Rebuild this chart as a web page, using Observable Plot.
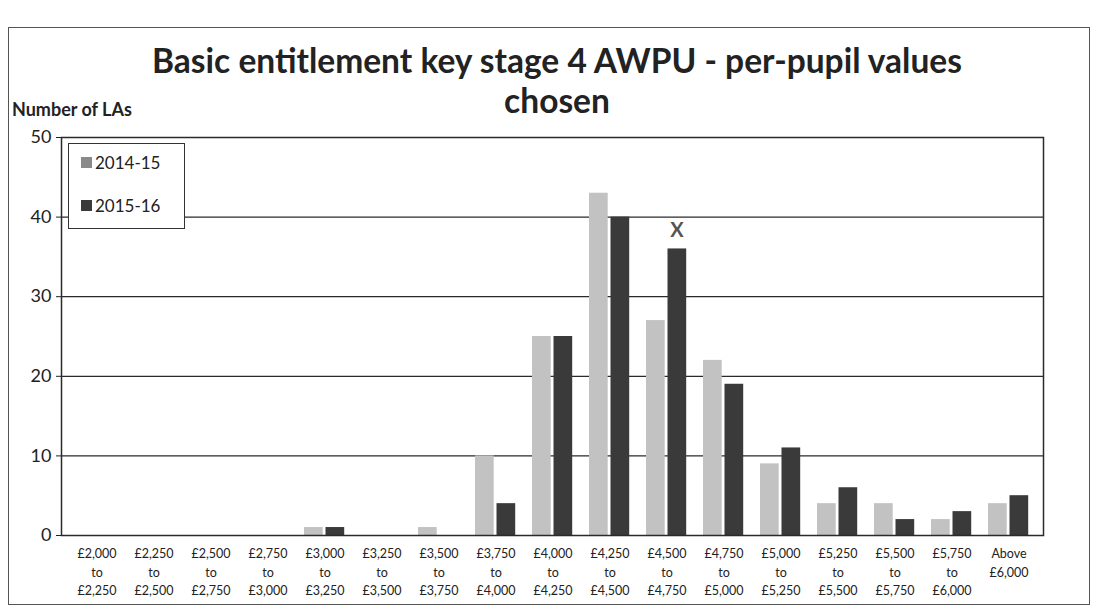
<!DOCTYPE html>
<html><head><meta charset="utf-8">
<script src="https://cdn.jsdelivr.net/npm/d3@7"></script>
<script src="https://cdn.jsdelivr.net/npm/@observablehq/plot@0.6"></script>
<style>
body{margin:0;background:#fff;font-family:Lato,"Open Sans",sans-serif;color:#222}
#wrap{position:relative;width:1100px;height:611px;overflow:hidden}
#border{position:absolute;left:8px;top:27px;width:1082px;height:578px;border:1.5px solid #555;box-sizing:border-box}
#title{position:absolute;left:0;width:1114px;top:40px;text-align:center;font-weight:700;font-size:33.5px;line-height:40px;color:#222}
#ylab{position:absolute;left:12px;top:98px;font-weight:700;font-size:18px;color:#222}
#chart{position:absolute;left:0;top:120px}
#legend{position:absolute;left:68px;top:143px;width:117px;height:86px;border:1.5px solid #333;background:#fff;box-sizing:border-box;font-size:17px}
.item{position:absolute;left:12px;display:flex;align-items:center}
.sw{width:11px;height:11px;margin-right:3px}
</style></head>
<body>
<div id="wrap">
<div id="border"></div>
<div id="chart"></div>
<div id="title">Basic entitlement key stage 4 AWPU - per-pupil values<br>chosen</div>
<div id="ylab">Number of LAs</div>
<div id="legend"></div>
</div>
<script>
const categories = ["£2,000 to £2,250","£2,250 to £2,500","£2,500 to £2,750","£2,750 to £3,000","£3,000 to £3,250","£3,250 to £3,500","£3,500 to £3,750","£3,750 to £4,000","£4,000 to £4,250","£4,250 to £4,500","£4,500 to £4,750","£4,750 to £5,000","£5,000 to £5,250","£5,250 to £5,500","£5,500 to £5,750","£5,750 to £6,000","Above £6,000"];
const seriesNames = ["2014-15","2015-16"];
const values2014 = [0,0,0,0,1,0,1,10,25,43,27,22,9,4,4,2,4];
const values2015 = [0,0,0,0,1,0,0,4,25,40,36,19,11,6,2,3,5];
const yTicks = [0,10,20,30,40,50];
const colors = {"2014-15":"#c2c2c2","2015-16":"#3a3a3a"};

const rows = [];
categories.forEach((c,i)=>{
  rows.push({category:c, series:seriesNames[0], value:values2014[i]});
  rows.push({category:c, series:seriesNames[1], value:values2015[i]});
});
const annot = [{category:categories[10], value:values2015[10], label:"X"}];

const chart = Plot.plot({
  width:1100, height:488,
  marginLeft:61, marginRight:57, marginTop:17, marginBottom:73,
  style:{fontFamily:"Lato, 'Open Sans', sans-serif", color:"#222", background:"transparent"},
  x:{domain:categories, padding:0},
  y:{domain:[0,50]},
  marks:[
    Plot.ruleY(yTicks.filter(d=>d>0 && d<50), {stroke:"#2a2a2a", strokeWidth:1.3}),
    Plot.barY(rows.filter(d=>d.series===seriesNames[0]), {x:"category", y:"value", fill:colors["2014-15"], insetLeft:8, insetRight:30.3}),
    Plot.barY(rows.filter(d=>d.series===seriesNames[1]), {x:"category", y:"value", fill:colors["2015-16"], insetLeft:29.5, insetRight:8.8}),
    Plot.text(annot, {x:"category", y:"value", text:"label", dx:10, dy:-18, fontSize:20, fill:"#555", fontWeight:"bold"}),
    Plot.frame({stroke:"#2a2a2a", strokeWidth:1.5}),
    Plot.axisY({ticks:yTicks, tickSize:5, tickPadding:5, fontSize:18, label:null}),
    Plot.axisX({tickSize:0, tickPadding:9, fontSize:12.5, lineHeight:1.5, label:null,
      tickFormat:d=>d.startsWith("Above") ? d.replace(" ","\n") : d.replace(" to ","\nto\n")})
  ]
});
document.getElementById("chart").appendChild(chart);

const leg = document.getElementById("legend");
seriesNames.forEach((s,i)=>{
  const it = document.createElement("div");
  it.className="item";
  it.style.top = (i===0 ? 8 : 51) + "px";
  it.innerHTML = `<div class="sw" style="background:${i===0?'#8a8a8a':colors[s]}"></div><span>${s}</span>`;
  leg.appendChild(it);
});
</script>
</body></html>
